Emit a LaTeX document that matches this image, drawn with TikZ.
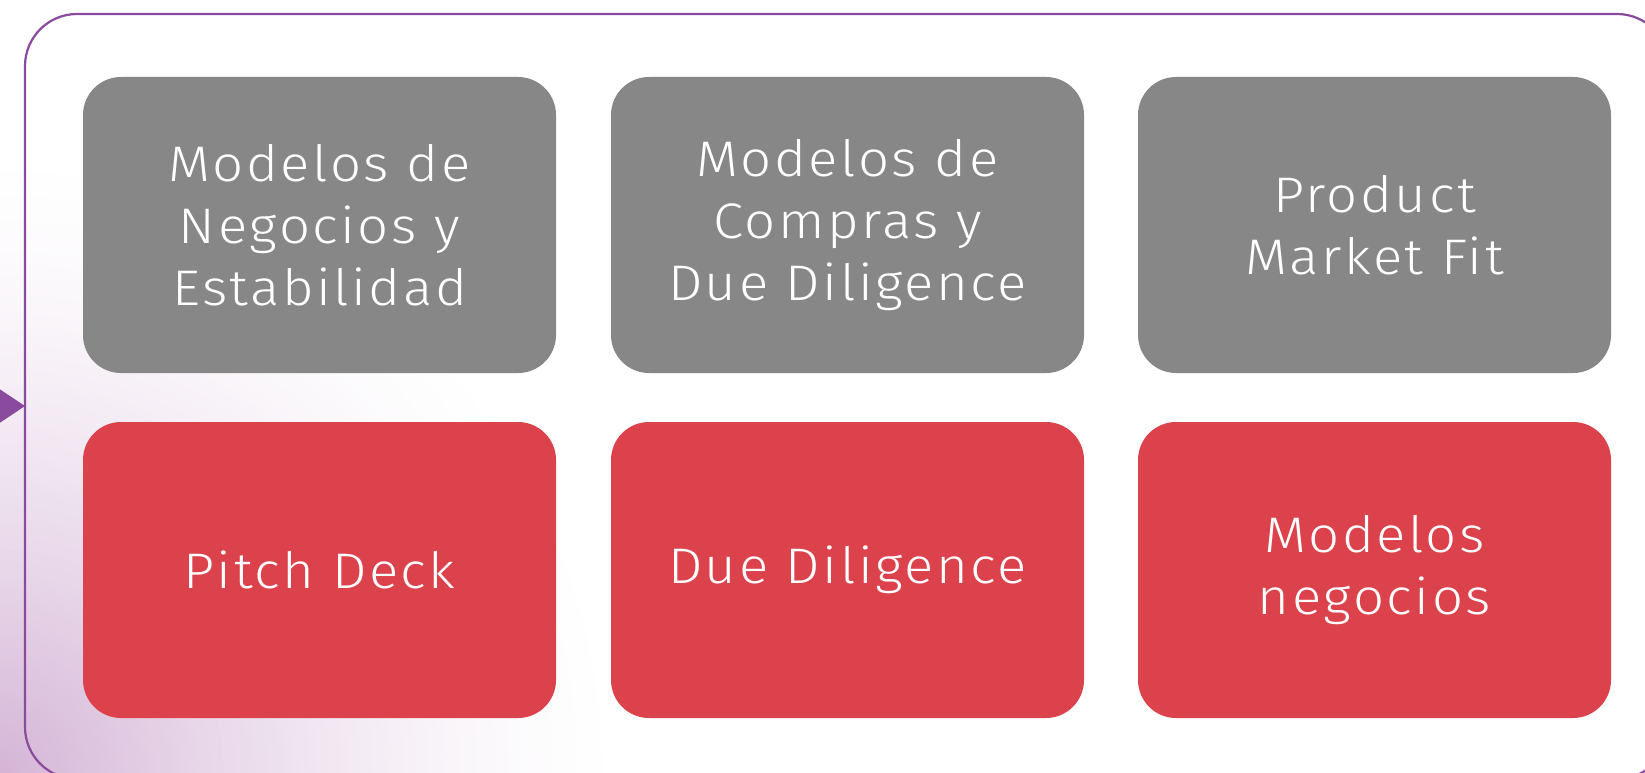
\documentclass[tikz,border=0pt]{standalone}
\usepackage{fontspec}
\newfontfamily\boxfont[LetterSpace=5,FakeStretch=1.09]{Fira Sans Light}
\definecolor{grayb}{HTML}{878787}
\definecolor{redb}{HTML}{DC424B}
\definecolor{purp}{HTML}{8A4A9D}
\definecolor{lav}{HTML}{D4B4D6}
\begin{document}
\begin{tikzpicture}[x=1pt,y=-1pt,
  card/.style={rounded corners=38pt, minimum width=473pt, minimum height=296pt,
    inner sep=0pt, text=white, align=center,
    font=\boxfont\fontsize{50}{62}\selectfont},
  graycard/.style={card, fill=grayb},
  redcard/.style={card, fill=redb},
  frame/.style={draw=purp, line width=2.2pt, rounded corners=52pt,
    minimum width=1644pt, minimum height=765pt, inner sep=0pt}]
\useasboundingbox (0,0) rectangle (1645,773);
\clip (0,0) rectangle (1645,773);
\fill[white] (0,0) rectangle (1645,773);
\foreach \i in {0,...,99}{
  \pgfmathsetmacro{\rr}{620*(1-\i/100)}
  \pgfmathsetmacro{\pc}{100*(\i/100)^1.5}
  \fill[lav!\pc!white] (0,773) circle [radius=\rr pt];
}
\node[frame] (frame) at (847,396.5) {};
\coordinate (tip) at (25,406);
\fill[purp] (tip) -- ++(-45,-30) -- ++(0,60) -- cycle;
\node[graycard] (g1) at (319.5,225) {Modelos de\\Negocios y\\Estabilidad};
\node[graycard] (g2) at (847.5,225) {Modelos de\\Compras y\\Due Diligence};
\node[graycard] (g3) at (1374.5,225) {Product\\Market Fit};
\node[redcard] (r1) at (319.5,570) {Pitch Deck};
\node[redcard] (r2) at (847.5,570) {Due Diligence};
\node[redcard] (r3) at (1374.5,570) {Modelos\\negocios};
\end{tikzpicture}
\end{document}
